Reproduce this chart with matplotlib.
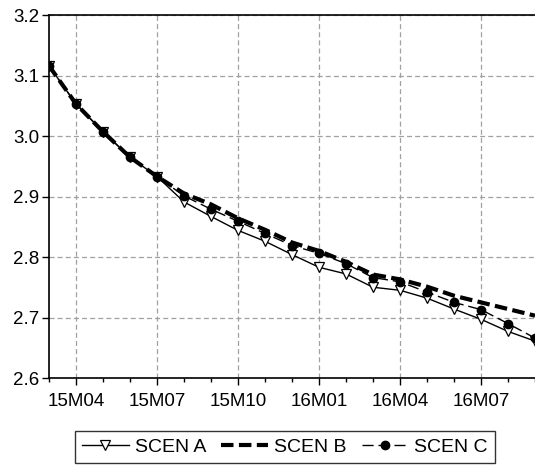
import numpy as np
import matplotlib
matplotlib.use("Agg")
from matplotlib import pyplot as plt
from matplotlib.ticker import MultipleLocator, FixedLocator

plt.rcParams['font.family'] = ['Liberation Sans', 'DejaVu Sans']

# monthly, 15M03 .. 16M09
months = ['15M03', '15M04', '15M05', '15M06', '15M07', '15M08', '15M09', '15M10',
          '15M11', '15M12', '16M01', '16M02', '16M03', '16M04', '16M05', '16M06',
          '16M07', '16M08', '16M09']
tick_labels = ['15M04', '15M07', '15M10', '16M01', '16M04', '16M07']

scen_a = [3.116, 3.053, 3.007, 2.965, 2.933, 2.891, 2.867, 2.844, 2.826, 2.804,
          2.783, 2.772, 2.750, 2.745, 2.732, 2.714, 2.697, 2.677, 2.661]
scen_b = [3.116, 3.053, 3.007, 2.965, 2.933, 2.905, 2.887, 2.864, 2.845, 2.824,
          2.810, 2.792, 2.771, 2.763, 2.751, 2.736, 2.725, 2.714, 2.703]
scen_c = [3.116, 3.053, 3.007, 2.965, 2.933, 2.901, 2.879, 2.859, 2.839, 2.819,
          2.806, 2.789, 2.766, 2.759, 2.742, 2.725, 2.713, 2.690, 2.666]

x = np.arange(len(months))

fig = plt.figure(figsize=(5.35, 4.65), dpi=100)
ax = fig.add_axes([49 / 535, 87 / 465, 1 - 49 / 535, 363 / 465])

ax.plot(x, scen_a, color='black', lw=1.0, marker='v', ms=6.5,
        mfc='white', mec='black', mew=0.9, label='SCEN A', zorder=3)
ax.plot(x, scen_b, color='black', lw=3.0, ls=(0, (3.0, 1.3)),
        label='SCEN B', zorder=4)
ax.plot(x, scen_c, color='black', lw=1.0, ls=(0, (8, 3.5)), marker='o', ms=6,
        mfc='black', mec='black', label='SCEN C', zorder=5)

ax.set_xlim(0, len(months) - 1)
ax.set_ylim(2.6, 3.2)
ax.yaxis.set_major_locator(MultipleLocator(0.1))
ax.yaxis.set_major_formatter(plt.FormatStrFormatter('%.1f'))

major_pos = [months.index(t) for t in tick_labels]
ax.xaxis.set_major_locator(FixedLocator(major_pos))
ax.set_xticklabels(tick_labels)
ax.xaxis.set_minor_locator(FixedLocator(x))

ax.tick_params(axis='both', which='major', direction='out', length=5,
               width=1, labelsize=13.5, colors='black')
ax.tick_params(axis='x', which='minor', direction='out', length=3, width=1)
ax.tick_params(axis='x', pad=6)
ax.tick_params(axis='y', pad=2)

ax.grid(True, which='major', color='#a0a0a0', ls=(0, (4, 2.5)), lw=0.9)
ax.set_axisbelow(True)

for side in ['left', 'top', 'bottom']:
    ax.spines[side].set_linewidth(1.2)
    ax.spines[side].set_color('black')
ax.spines['right'].set_visible(False)

leg = fig.legend(loc='center', bbox_to_anchor=(285 / 535, 1 - 447 / 465),
                 ncol=3, fontsize=14, frameon=True, fancybox=False,
                 edgecolor='black', handlelength=2.4, handletextpad=0.3,
                 columnspacing=0.8, borderpad=0.35, borderaxespad=0)
leg.get_frame().set_linewidth(1.0)

fig.savefig('out.png', dpi=100)
